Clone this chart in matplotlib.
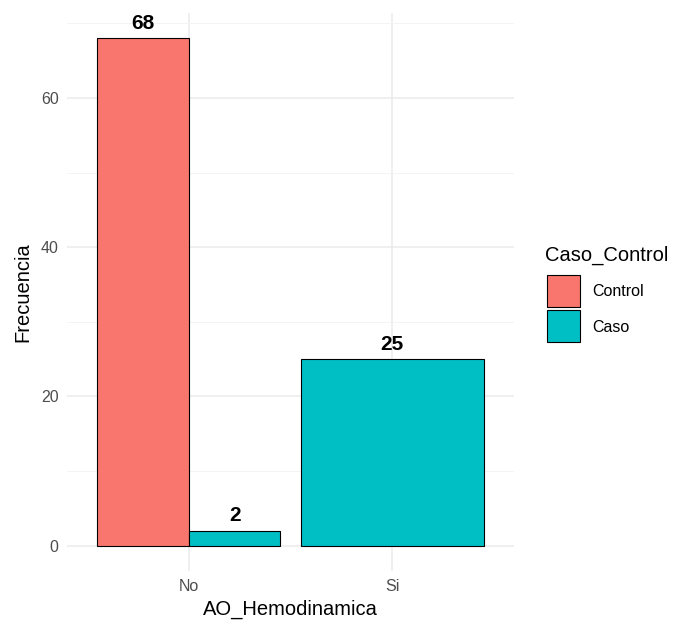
import matplotlib
matplotlib.use("Agg")
import matplotlib.pyplot as plt
import numpy as np
from matplotlib.patches import Rectangle

plt.rcParams['font.family'] = ['Liberation Sans', 'DejaVu Sans']

categories = ["No", "Si"]
groups = ["Control", "Caso"]
colors = {"Control": "#F8766D", "Caso": "#00BFC4"}
# counts per category: list of (group, value)
data = {
    "No": [("Control", 68), ("Caso", 2)],
    "Si": [("Caso", 25)],
}
yticks = [0, 20, 40, 60]

W, H = 682, 628
fig = plt.figure(figsize=(W/100, H/100), dpi=100)
ax = fig.add_axes([67/W, 1-571/H, (514-67)/W, (571-13)/H])

width = 0.9
ymax = max(v for c in categories for _, v in data[c])
for i, c in enumerate(categories):
    items = data[c]
    n = len(items)
    w = width / n
    for j, (g, v) in enumerate(items):
        x = i + 1 - width/2 + w*j
        ax.bar(x, v, width=w, align='edge', color=colors[g], edgecolor='black', linewidth=0.8, zorder=3)
        ax.text(x + w/2, v + 0.7, str(v), ha='center', va='bottom', fontsize=15, fontweight='bold', zorder=4)

ax.set_xlim(0.4, 2.6)
ax.set_ylim(-ymax*0.05, ymax*1.05)
ax.set_xticks([1, 2])
ax.set_xticklabels(categories)
ax.set_yticks(yticks)
ax.set_yticks([10, 30, 50, 70], minor=True)
ax.grid(True, which='major', color='#EBEBEB', linewidth=1.1, zorder=0)
ax.grid(True, which='minor', axis='y', color='#F3F3F3', linewidth=0.6, zorder=0)
for s in ax.spines.values():
    s.set_visible(False)
ax.tick_params(which='both', length=0, labelsize=11.5, labelcolor='#4D4D4D', pad=6)
ax.set_xlabel("AO_Hemodinamica", fontsize=14.5, labelpad=4)
ax.set_ylabel("Frecuencia", fontsize=14.5, labelpad=6)

# legend
fig.text(545/W, 1-255/H, "Caso_Control", fontsize=14.5, ha='left', va='center')
for k, g in enumerate(groups):
    top = 275 + k*35
    fig.add_artist(Rectangle((547/W, 1-(top+32)/H), 33/W, 32/H, transform=fig.transFigure,
                             facecolor=colors[g], edgecolor='black', linewidth=0.8))
    fig.text(592/W, 1-(top+17)/H, g, fontsize=11.5, ha='left', va='center')

fig.savefig("out.png", dpi=100)
